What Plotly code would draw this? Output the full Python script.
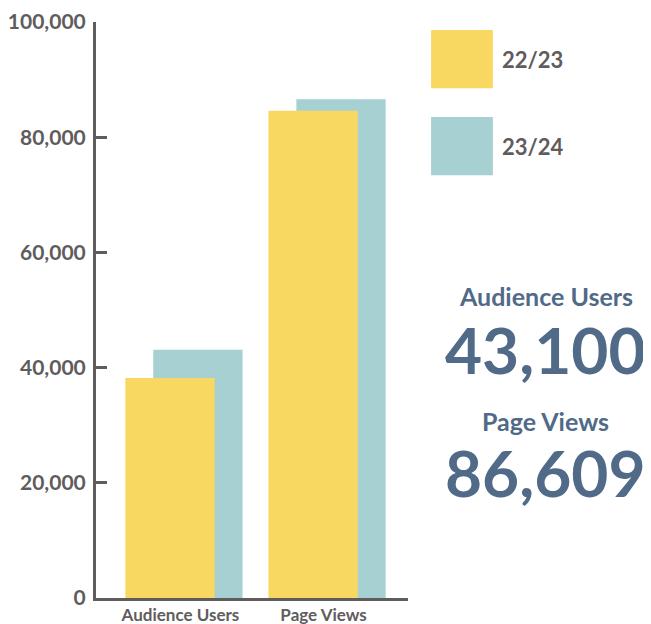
import plotly.graph_objects as go

categories = ["Audience Users", "Page Views"]
series_names = ["22/23", "23/24"]
values_2223 = [38200, 84600]
values_2324 = [43100, 86609]
y_ticks = [0, 20000, 40000, 60000, 80000, 100000]

YELLOW = "#F9D862"
TEAL = "#A6D0D1"
GRAY = "#5F5C5D"
BLUE = "#506A88"
FONT = "Lato"

fig = go.Figure()
fig.add_trace(go.Bar(x=categories, y=values_2324, name=series_names[1],
                     marker=dict(color=TEAL, line=dict(width=0)),
                     width=0.624, offset=-0.19))
fig.add_trace(go.Bar(x=categories, y=values_2223, name=series_names[0],
                     marker=dict(color=YELLOW, line=dict(width=0)),
                     width=0.624, offset=-0.385))

# custom legend: big colour squares + labels
legend_items = [(series_names[0], YELLOW, 0.986, 0.885), (series_names[1], TEAL, 0.835, 0.734)]
shapes = []
annotations = []
for name, color, y1, y0 in legend_items:
    shapes.append(dict(type="rect", xref="paper", yref="paper",
                       x0=1.074, x1=1.272, y0=y0, y1=y1,
                       fillcolor=color, line=dict(width=0), layer="above"))
    annotations.append(dict(text=f"<b>{name}</b>", xref="paper", yref="paper",
                            x=1.296, y=(y0 + y1) / 2, xanchor="left", yanchor="middle",
                            showarrow=False, font=dict(family=FONT, size=22, color=GRAY)))

# highlight totals for latest year
big = [(categories[0], values_2324[0], 0.524, 0.432), (categories[1], values_2324[1], 0.308, 0.218)]
for label, val, ly, vy in big:
    annotations.append(dict(text=f"<b>{label}</b>", xref="paper", yref="paper",
                            x=1.442, y=ly, xanchor="center", yanchor="middle",
                            showarrow=False, font=dict(family=FONT, size=25, color=BLUE)))
    annotations.append(dict(text=f"<b>{val:,}</b>", xref="paper", yref="paper",
                            x=1.442, y=vy, xanchor="center", yanchor="middle",
                            showarrow=False, font=dict(family=FONT, size=64, color=BLUE)))

# page body has an 8px margin, so the figure is 8px smaller and margins compensate
fig.update_layout(
    width=643, height=616,
    margin=dict(l=88, r=243, t=14, b=26),
    paper_bgcolor="white", plot_bgcolor="white",
    barmode="overlay", showlegend=False,
    shapes=shapes, annotations=annotations,
    font=dict(family=FONT, color=GRAY),
)
fig.update_xaxes(range=[-0.59, 1.59], showgrid=False, zeroline=False, automargin=False,
                 showline=True, linecolor=GRAY, linewidth=3, ticks="",
                 tickfont=dict(family=FONT, size=17, color=GRAY, weight="bold"))
fig.update_yaxes(range=[0, 100000], tickvals=y_ticks, tickformat=",", automargin=False,
                 showgrid=False, zeroline=False, showline=True, linecolor=GRAY,
                 linewidth=3, ticks="inside", ticklen=11, tickwidth=3, tickcolor=GRAY,
                 ticklabelstandoff=3,
                 tickfont=dict(family=FONT, size=21, color=GRAY, weight="bold"))

fig.write_html("out.html")
